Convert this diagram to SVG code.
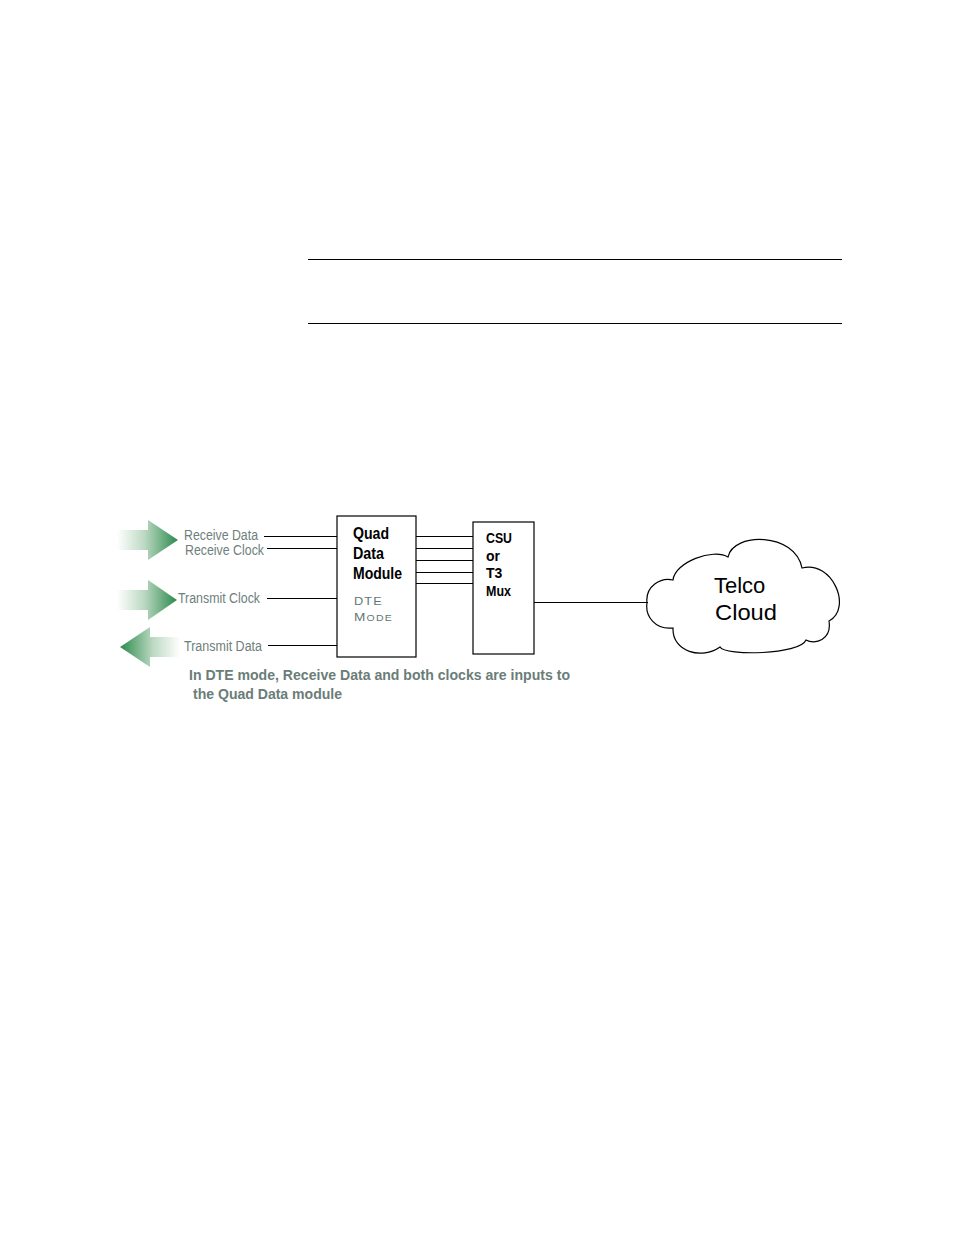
<svg xmlns="http://www.w3.org/2000/svg" width="954" height="1235" viewBox="0 0 954 1235">
<defs>
<linearGradient id="gR" x1="0" y1="0" x2="1" y2="0">
<stop offset="0" stop-color="#ffffff"/>
<stop offset="0.45" stop-color="#bcd9c3"/>
<stop offset="1" stop-color="#2c8a4c"/>
</linearGradient>
<linearGradient id="gL" x1="1" y1="0" x2="0" y2="0">
<stop offset="0" stop-color="#ffffff"/>
<stop offset="0.45" stop-color="#bcd9c3"/>
<stop offset="1" stop-color="#2c8a4c"/>
</linearGradient>
<style>
.ln{stroke:#000;stroke-width:1.2;fill:none}
.box{fill:#fff;stroke:#000;stroke-width:1.2}
.lbl{font-family:"Liberation Sans",Arial,sans-serif;font-size:14px;fill:#6e807b}
.bold{font-family:"Liberation Sans",Arial,sans-serif;font-weight:bold;fill:#000}
.mode{font-family:"Liberation Sans",Arial,sans-serif;fill:#5f7873;letter-spacing:1px}
.cap{font-family:"Liberation Sans",Arial,sans-serif;font-weight:bold;font-size:15.5px;fill:#6a7d78}
.cloudt{font-family:"Liberation Sans",Arial,sans-serif;font-size:22px;fill:#000}
</style>
</defs>
<rect width="954" height="1235" fill="#fff"/>
<g id="rules">
<line class="ln" x1="308" y1="259.5" x2="842" y2="259.5"/>
<line class="ln" x1="308" y1="323.5" x2="842" y2="323.5"/>
</g>
<g id="arrows">
<polygon fill="url(#gR)" points="117,530 148,530 148,520 178,540 148,560 148,550 117,550"/>
<polygon fill="url(#gR)" points="117,590 148,590 148,580 177,600 148,620 148,610 117,610"/>
<polygon fill="url(#gL)" points="180,637 150,637 150,627 120,647 150,667 150,657 180,657"/>
</g>
<g id="connectors">
<line class="ln" x1="264" y1="536.5" x2="337" y2="536.5"/>
<line class="ln" x1="267" y1="548.5" x2="337" y2="548.5"/>
<line class="ln" x1="267" y1="598.5" x2="337" y2="598.5"/>
<line class="ln" x1="268" y1="645.5" x2="337" y2="645.5"/>
<line class="ln" x1="416" y1="536.5" x2="473" y2="536.5"/>
<line class="ln" x1="416" y1="548.5" x2="473" y2="548.5"/>
<line class="ln" x1="416" y1="560.5" x2="473" y2="560.5"/>
<line class="ln" x1="416" y1="572.5" x2="473" y2="572.5"/>
<line class="ln" x1="416" y1="583.5" x2="473" y2="583.5"/>
<line class="ln" x1="534" y1="602.5" x2="648" y2="602.5"/>
</g>
<g id="labels">
<text class="lbl" x="184" y="540" textLength="74" lengthAdjust="spacingAndGlyphs">Receive Data</text>
<text class="lbl" x="185" y="555" textLength="79" lengthAdjust="spacingAndGlyphs">Receive Clock</text>
<text class="lbl" x="178" y="603" textLength="82" lengthAdjust="spacingAndGlyphs">Transmit Clock</text>
<text class="lbl" x="184" y="651" textLength="78" lengthAdjust="spacingAndGlyphs">Transmit Data</text>
</g>
<g id="quad">
<rect class="box" x="337" y="516" width="79" height="141"/>
<text class="bold" font-size="16" x="353" y="539" textLength="36" lengthAdjust="spacingAndGlyphs">Quad</text>
<text class="bold" font-size="16" x="353" y="559" textLength="31" lengthAdjust="spacingAndGlyphs">Data</text>
<text class="bold" font-size="16" x="353" y="579" textLength="49" lengthAdjust="spacingAndGlyphs">Module</text>
<text class="mode" font-size="11" x="354" y="605" textLength="29" lengthAdjust="spacingAndGlyphs">DTE</text>
<text class="mode" x="354" y="620.5" textLength="39" lengthAdjust="spacingAndGlyphs"><tspan font-size="11">M</tspan><tspan font-size="8.5">ODE</tspan></text>
</g>
<g id="csu">
<rect class="box" x="473" y="522" width="61" height="132"/>
<text class="bold" font-size="14" x="486" y="543" textLength="26" lengthAdjust="spacingAndGlyphs">CSU</text>
<text class="bold" font-size="14" x="486" y="561">or</text>
<text class="bold" font-size="14" x="486" y="578">T3</text>
<text class="bold" font-size="14" x="486" y="596" textLength="25" lengthAdjust="spacingAndGlyphs">Mux</text>
</g>
<g id="cloud">
<path class="ln" stroke-width="1.6" fill="#fff" d="M647,603 C645,586 661,577 673,580 C675,562 713,548 728,557 C733,532 795,532 802,568 C832,560 853,608 829,621 C832,640 815,645 806,640 C800,655 725,656 720,647 C702,660 672,652 673,628 C655,630 645,616 647,603 Z"/>
<text class="cloudt" x="714" y="593">Telco</text>
<text class="cloudt" x="715" y="620" textLength="62" lengthAdjust="spacingAndGlyphs">Cloud</text>
</g>
<g id="caption">
<text class="cap" x="189" y="680" textLength="381" lengthAdjust="spacingAndGlyphs">In DTE mode, Receive Data and both clocks are inputs to</text>
<text class="cap" x="193" y="699" textLength="149" lengthAdjust="spacingAndGlyphs">the Quad Data module</text>
</g>
</svg>
